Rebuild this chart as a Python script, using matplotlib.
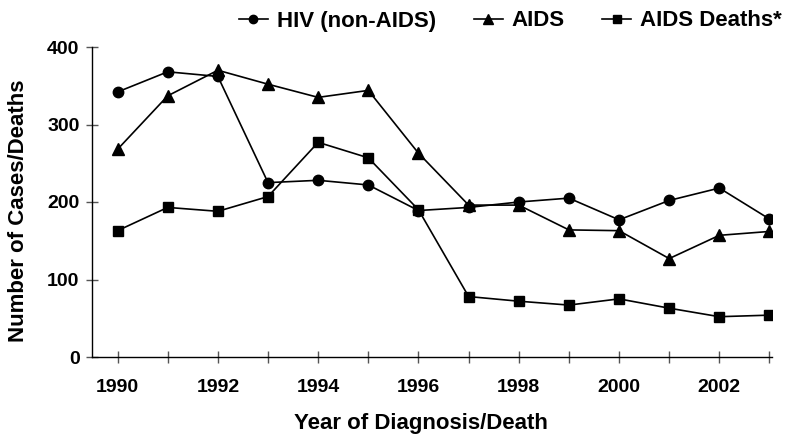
import numpy as np
import matplotlib
matplotlib.use("Agg")
import matplotlib.pyplot as plt

plt.rcParams['font.family'] = ['Liberation Sans', 'DejaVu Sans']
plt.rcParams['font.weight'] = 'bold'

years = list(range(1990, 2004))
hiv = [342, 368, 362, 225, 228, 222, 189, 193, 200, 205, 177, 202, 218, 178]
aids = [268, 337, 370, 352, 335, 344, 263, 196, 196, 164, 163, 127, 157, 162]
deaths = [163, 193, 188, 207, 277, 257, 190, 78, 72, 67, 75, 63, 52, 54]

fig = plt.figure(figsize=(7.97, 4.37), dpi=100)
ax = fig.add_axes([92 / 797, 1 - 357 / 437, 680 / 797, 310 / 437])

ax.plot(years, hiv, color='black', lw=1.2, marker='o', ms=7.5, label='HIV (non-AIDS)')
ax.plot(years, aids, color='black', lw=1.2, marker='^', ms=8.5, label='AIDS')
ax.plot(years, deaths, color='black', lw=1.2, marker='s', ms=7, label='AIDS Deaths*')

ax.set_xlim(1989.49, 2003.05)
ax.set_ylim(0, 400)
ax.set_yticks([0, 100, 200, 300, 400])
ax.set_xticks(years)
ax.set_xticklabels([str(y) if y % 2 == 0 else '' for y in years])

for s in ['top', 'right']:
    ax.spines[s].set_visible(False)
for s in ['left', 'bottom']:
    ax.spines[s].set_linewidth(1.0)

ax.tick_params(axis='y', direction='inout', length=8, width=1, color='#555555',
               labelsize=14, pad=5)
ax.tick_params(axis='x', direction='inout', length=9, width=1, color='#555555',
               labelsize=14, pad=11)

fig.text(421 / 797, 1 - 424 / 437, 'Year of Diagnosis/Death', ha='center', va='center',
         fontsize=16, fontweight='bold')
fig.text(19 / 797, 1 - 211 / 437, 'Number of Cases/Deaths', ha='center', va='center',
         rotation=90, fontsize=16, fontweight='bold')

fig.legend(loc='center right', bbox_to_anchor=(0.995, 1 - 21 / 437), ncol=3, frameon=False,
           fontsize=16, handlelength=1.3, handletextpad=0.4, columnspacing=1.7,
           markerscale=0.8, borderaxespad=0.1)

fig.savefig('out.png', dpi=100)
